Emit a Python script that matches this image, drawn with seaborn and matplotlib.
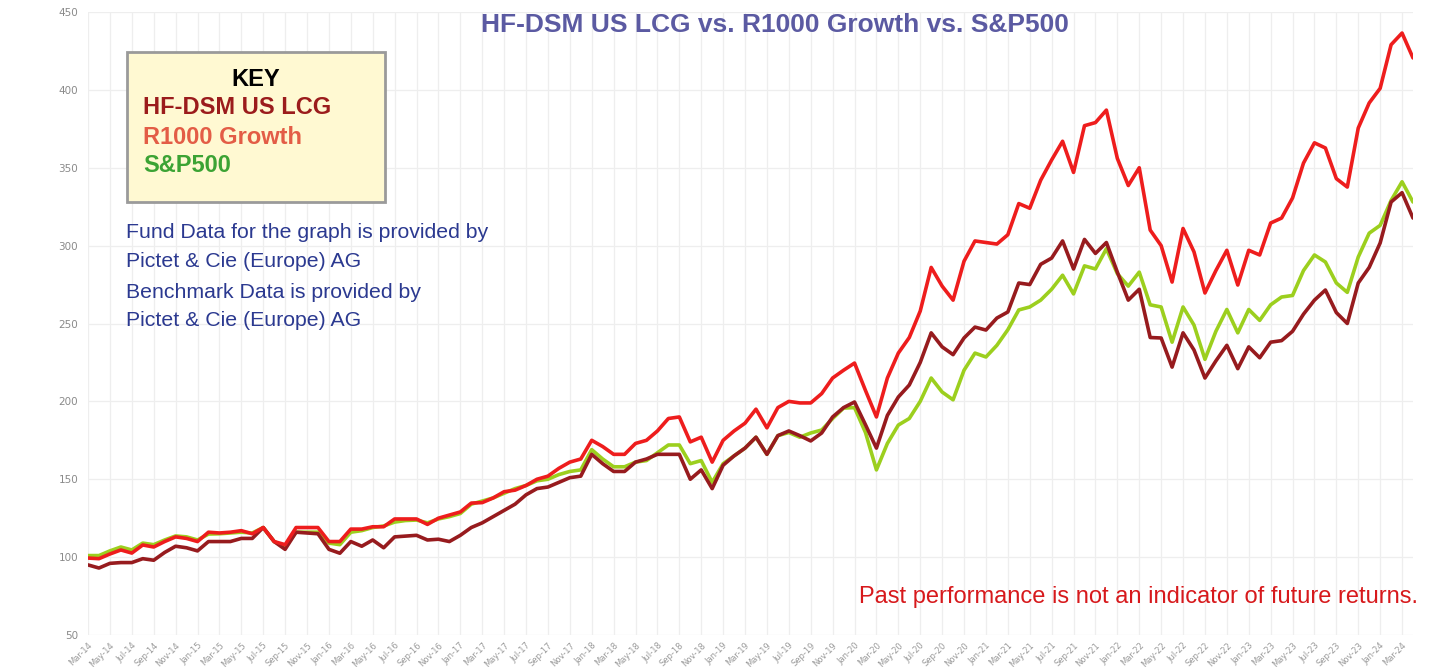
import numpy as np
import pandas as pd
import matplotlib
matplotlib.use("Agg")
import matplotlib.pyplot as plt
import seaborn as sns
from matplotlib.patches import Rectangle

# monthly index values, Mar-14 .. Apr-24
months = pd.date_range("2014-03-01", periods=122, freq="MS").strftime("%b-%y").tolist()

hf_dsm = [95, 93, 96, 96.5, 96.5, 99, 98, 103, 107, 106, 104, 110, 110, 110, 112, 112,
          119, 110, 105, 116, 115.5, 115, 105, 102.5, 110, 107, 111, 106, 113, 113.5,
          114, 111, 111.5, 110, 114, 119, 122, 126, 130, 134, 140, 144, 145, 148, 151,
          152, 166, 160, 155, 155, 161, 163, 166, 166, 166, 150, 156, 144, 159, 165,
          170, 177, 166, 178, 181, 178, 174.6, 179.7, 190, 196, 199.6, 185, 170, 191,
          202.8, 210.5, 225, 244, 235, 230, 240.7, 247.7, 245.8, 253.5, 257.4, 276,
          275, 288, 292, 303, 285, 304, 295, 302, 283, 265, 272, 241, 240.7, 222, 244,
          233, 215, 226, 236, 221, 235, 228, 238, 239, 245, 256, 265, 271.5, 257, 250,
          276, 286, 301.7, 328, 334, 317.7]

r1000g = [99.4, 99, 102, 104.6, 102.6, 107.8, 106.5, 110, 113, 112, 110, 116, 115.5,
          116, 117, 115, 119, 110, 108, 119, 119, 119, 110, 110, 118, 118, 119.5, 119.5,
          124.5, 124.5, 124.5, 121, 125, 127, 129, 134.7, 135, 138, 142, 143, 146, 150,
          152, 157, 161, 163, 175, 171, 166, 166, 173, 175, 181, 189, 190, 174, 177,
          161, 175, 181, 186, 195, 183, 196, 200, 199, 199, 205, 215, 220, 224.6, 207,
          190, 215, 231, 241, 258, 286, 274, 265, 290, 303, 302, 301, 307, 327, 324,
          342, 355, 367, 347, 377, 379, 387, 356, 338.6, 350, 310, 300, 276.6, 311, 296,
          269.6, 284, 297, 274.7, 297, 294, 314.5, 317.7, 330.6, 353, 366, 362.7, 343,
          337.6, 375.5, 391.6, 401, 429, 436.5, 420.5]

sp500 = [101, 101, 104, 106.5, 104.6, 109, 108, 111, 113.6, 113, 111, 114.8, 115, 115.5,
         116, 115.5, 119, 110, 106.5, 116, 116, 116, 109, 108, 116, 117, 119, 120, 122.5,
         123.5, 123.8, 122, 124.5, 126, 128, 134, 136, 138, 141, 144, 146, 149, 150, 153,
         155, 156, 169, 163, 158, 158, 161, 162, 167, 172, 172, 160, 162, 148, 160, 165,
         170, 177, 166, 178, 180, 177, 179.7, 181.6, 189, 195.7, 196, 180, 156, 173,
         184.8, 189, 200, 215, 206, 201, 220, 231, 228.5, 236, 246, 258.7, 260.6, 265,
         272, 281, 269, 287, 285, 298, 282, 274, 283, 262, 260.6, 238, 260.6, 249, 227,
         245, 259, 244, 259, 252, 262, 267, 268, 284, 294, 289.5, 276, 270, 292.7, 308,
         313, 329, 341, 328]

series_names = ["S&P500", "HF-DSM US LCG", "R1000 Growth"]
line_colors = {"S&P500": "#9ccf1e", "HF-DSM US LCG": "#971b1e", "R1000 Growth": "#ee1d1d"}

df = pd.DataFrame({"idx": np.arange(len(months)), "month": months,
                   "S&P500": sp500, "HF-DSM US LCG": hf_dsm, "R1000 Growth": r1000g})
df_long = df.melt(id_vars=["idx", "month"], var_name="series", value_name="value")

sns.set_style("white")
fig = plt.figure(figsize=(14.34, 6.67), dpi=100)
ax = fig.add_axes([88 / 1434, 32 / 667, (1413 - 88) / 1434, (635 - 12) / 667])

sns.lineplot(data=df_long, x="idx", y="value", hue="series", hue_order=series_names,
             palette=line_colors, linewidth=2.6, legend=False, ax=ax)

ax.set_xlim(0, len(months) - 1)
ax.set_ylim(50, 450)
ax.set_yticks(np.arange(50, 451, 50))
tick_idx = np.arange(0, len(months), 2)
ax.set_xticks(tick_idx)
ax.set_xticklabels([months[i] for i in tick_idx], rotation=45, ha="right",
                   rotation_mode="anchor", fontsize=6, color="#9a9a9a")
ax.tick_params(axis="y", labelsize=7.5, labelcolor="#8a8a8a", length=4, color="#dddddd", pad=3)
ax.tick_params(axis="x", length=0, pad=4)
ax.grid(True, color="#eeeeee", linewidth=0.9)
for s in ax.spines.values():
    s.set_visible(False)
ax.set_xlabel("")
ax.set_ylabel("")

fig.text(775 / 1434, 1 - 25 / 667, "HF-DSM US LCG vs. R1000 Growth vs. S&P500",
         ha="center", va="center", fontsize=19, fontweight="bold", color="#5b5aa2",
         family="Liberation Sans")

# key box
fig.patches.append(Rectangle((127 / 1434, 1 - 202 / 667), 258 / 1434, 150 / 667,
                             transform=fig.transFigure, facecolor="#fff9d2",
                             edgecolor="#9a9a9a", linewidth=2, zorder=3))
fig.text(256 / 1434, 1 - 79 / 667, "KEY", ha="center", va="center", fontsize=17,
         fontweight="bold", color="black", family="Liberation Sans", zorder=4)
key_colors = ["#9b1c1c", "#e35d46", "#3ca334"]
key_labels = ["HF-DSM US LCG", "R1000 Growth", "S&P500"]
for lbl, col, yy in zip(key_labels, key_colors, [107, 137, 165]):
    fig.text(143 / 1434, 1 - yy / 667, lbl, ha="left", va="center", fontsize=17,
             fontweight="bold", color=col, family="Liberation Sans", zorder=4)

note_lines = ["Fund Data for the graph is provided by", "Pictet & Cie (Europe) AG",
              "Benchmark Data is provided by", "Pictet & Cie (Europe) AG"]
for line, yy in zip(note_lines, [233, 262, 292, 320]):
    fig.text(126 / 1434, 1 - yy / 667, line, ha="left", va="center", fontsize=15.3,
             color="#2b3990", family="Liberation Sans")

fig.text(1418 / 1434, 1 - 597 / 667, "Past performance is not an indicator of future returns.",
         ha="right", va="center", fontsize=17, color="#d7191c", family="Liberation Sans")

fig.savefig("out.png", dpi=100)
